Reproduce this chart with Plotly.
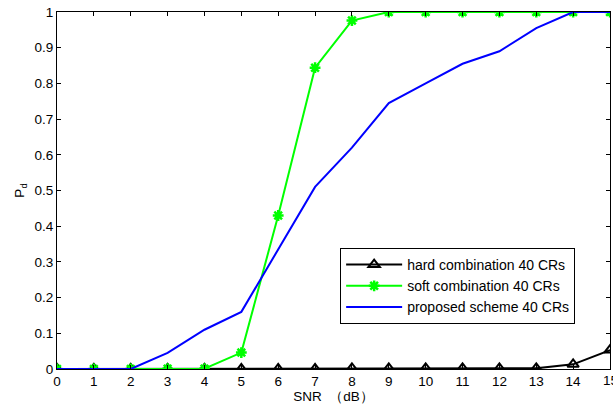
import plotly.graph_objects as go

snr = list(range(0, 16))
hard = [0, 0, 0, 0, 0, 0, 0, 0, 0.002, 0.002, 0.002, 0.002, 0.002, 0.002, 0.013, 0.053]
soft = [0, 0, 0, 0.001, 0.001, 0.046, 0.43, 0.844, 0.976, 1, 1, 1, 1, 1, 1, 1]
proposed = [0, 0, 0, 0.045, 0.11, 0.16, 0.335, 0.51, 0.62, 0.745, 0.80, 0.855, 0.89, 0.955, 1.0, 1.0]
x_ticks = snr[:-1]
y_ticks = [i / 10 for i in range(11)]
y_labels = ["0", "0.1", "0.2", "0.3", "0.4", "0.5", "0.6", "0.7", "0.8", "0.9", "1"]

font = "Liberation Sans, Arial, sans-serif"
fs = 13.5

fig = go.Figure()
fig.add_trace(go.Scatter(x=snr, y=hard, mode="lines+markers", name="hard combination 40 CRs",
                         line=dict(color="black", width=2),
                         marker=dict(symbol="triangle-up-open", size=10, color="black", line=dict(width=2))))
fig.add_trace(go.Scatter(x=snr, y=soft, mode="lines+markers", name="soft combination 40 CRs",
                         line=dict(color="#00ff00", width=2),
                         marker=dict(symbol="asterisk-open", size=9, color="#00ff00", line=dict(width=2.5, color="#00ff00"))))
fig.add_trace(go.Scatter(x=snr, y=proposed, mode="lines", name="proposed scheme 40 CRs",
                         line=dict(color="#0000ff", width=2)))

axis_common = dict(showline=True, linecolor="black", linewidth=1, mirror="ticks", ticks="inside",
                   ticklen=4, tickcolor="black", showgrid=False, zeroline=False,
                   tickfont=dict(family=font, size=fs, color="black"))

fig.update_layout(
    width=613, height=408,
    margin=dict(l=57, r=3, t=12, b=39),
    plot_bgcolor="white", paper_bgcolor="white",
    font=dict(family=font, size=fs, color="black"),
    xaxis=dict(range=[0, 15], tickmode="array", tickvals=snr, ticktext=[str(v) for v in x_ticks] + [""],
               title=dict(text="SNR  （dB）", font=dict(family=font, size=fs), standoff=2), **axis_common),
    yaxis=dict(range=[0, 1], tickmode="array", tickvals=y_ticks, ticktext=y_labels,
               title=dict(text="P<sub>d</sub>", font=dict(family=font, size=fs), standoff=6), **axis_common),
    legend=dict(x=0.512, y=0.339, xanchor="left", yanchor="top", bgcolor="white",
                bordercolor="black", borderwidth=1, font=dict(family=font, size=14),
                tracegroupgap=0, itemwidth=56),
    showlegend=True,
)
fig.add_annotation(x=snr[-1], xref="x", y=0, yref="paper", yanchor="top", yshift=-2,
                   text=str(snr[-1]), showarrow=False, font=dict(family=font, size=fs, color="black"))

fig.write_html("out.html")
